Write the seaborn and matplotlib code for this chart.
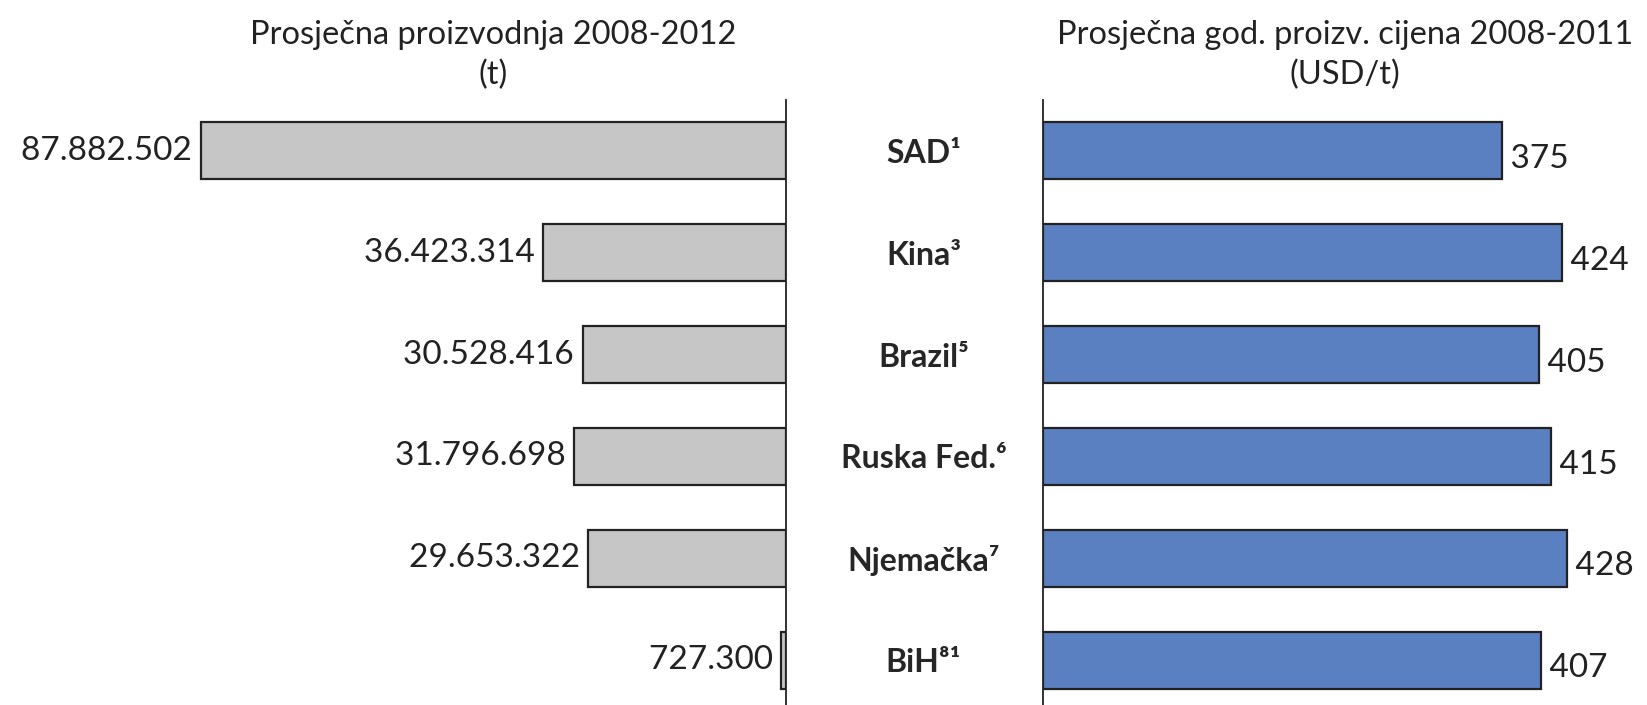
import matplotlib
matplotlib.use("Agg")
from matplotlib import pyplot as plt
import seaborn as sns

# data
countries = ["SAD¹", "Kina³", "Brazil⁵", "Ruska Fed.⁶", "Njemačka⁷", "BiH⁸¹"]
production_t = [87882502, 36423314, 30528416, 31796698, 29653322, 727300]
price_usd_t = [375, 424, 405, 415, 428, 407]

title_left = "Prosječna proizvodnja 2008-2012\n(t)"
title_right = "Prosječna god. proizv. cijena 2008-2011\n(USD/t)"

sns.set_theme(style="white")
plt.rcParams["font.family"] = ["Lato", "DejaVu Sans"]

fig = plt.figure(figsize=(16.47, 7.05), dpi=100)
W, H = 1647, 705
ax_top = 1 - 100 / H
ax_bot = -6 / H

# left panel: production, bars grow leftwards from the axis line
ax1 = fig.add_axes([0, ax_bot, 786 / W, ax_top - ax_bot])
sns.barplot(x=production_t, y=countries, ax=ax1, color="#c6c6c6", saturation=1,
            edgecolor="#222222", linewidth=1.6, width=0.56, orient="h")
ax1.set_xlim(118.0e6, 0)
ax1.set_ylim(5.5, -0.5)
for i, v in enumerate(production_t):
    ax1.text(v, i, f"{v:,}".replace(",", ".") + " ", ha="right", va="center",
             fontsize=24, color="#222222")
ax1.set_xticks([])
ax1.set_yticks([])
ax1.set_xlabel("")
ax1.set_ylabel("")
for s in ["left", "top", "bottom"]:
    ax1.spines[s].set_visible(False)
ax1.spines["right"].set_color("#222222")
ax1.spines["right"].set_linewidth(1.3)

# right panel: price
ax2 = fig.add_axes([1043 / W, ax_bot, 604 / W, ax_top - ax_bot])
sns.barplot(x=price_usd_t, y=countries, ax=ax2, color="#5b80c2", saturation=1,
            edgecolor="#222222", linewidth=1.6, width=0.56, orient="h")
ax2.set_xlim(0, 493.5)
ax2.set_ylim(5.5, -0.5)
for i, v in enumerate(price_usd_t):
    ax2.text(v, i + 0.08, f" {v}", ha="left", va="center",
             fontsize=24, color="#222222")
ax2.set_xticks([])
ax2.set_yticks(range(len(countries)))
ax2.set_yticklabels(countries, fontsize=23, fontweight="bold", ha="center")
ax2.tick_params(axis="y", length=0, pad=86)
ax2.set_xlabel("")
ax2.set_ylabel("")
for s in ["right", "top", "bottom"]:
    ax2.spines[s].set_visible(False)
ax2.spines["left"].set_color("#222222")
ax2.spines["left"].set_linewidth(1.3)

fig.text(493 / W, 1 - 55 / H, title_left, ha="center", va="center",
         fontsize=23.5, color="#222222", linespacing=1.4)
fig.text(1345 / W, 1 - 55 / H, title_right, ha="center", va="center",
         fontsize=23.5, color="#222222", linespacing=1.4)

fig.savefig("out.png", dpi=100, facecolor="white")
